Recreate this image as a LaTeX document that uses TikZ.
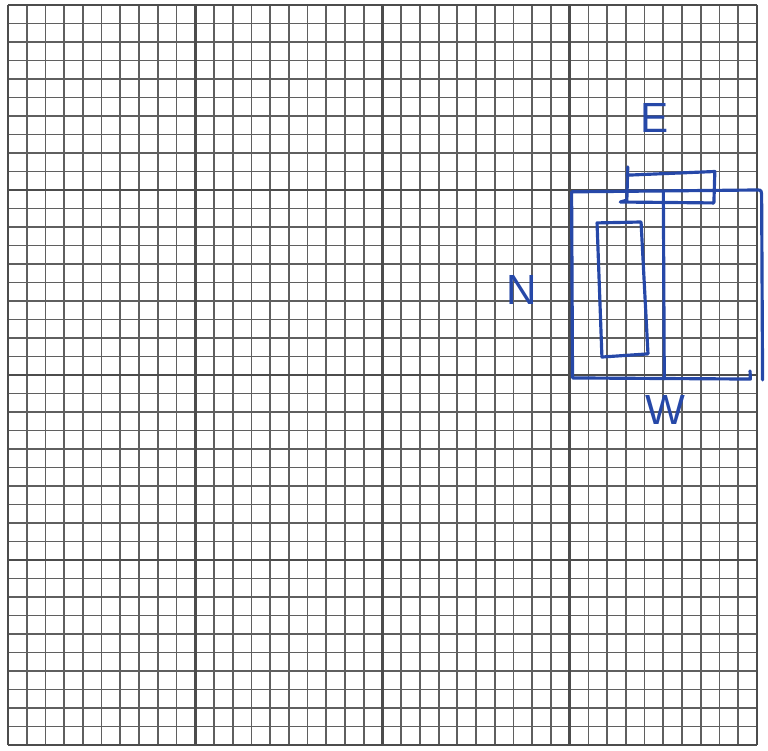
\documentclass[tikz,border=0pt]{standalone}
\usepackage{fontspec}
\setsansfont{Liberation Sans}
\definecolor{ink}{RGB}{38,72,168}
\definecolor{paper}{RGB}{95,95,95}
\begin{document}
\begin{tikzpicture}[x=0.3745cm,y=-0.37cm,
  minor/.style={paper,line width=1.0pt},
  major/.style={paper!80!black,line width=1.6pt},
  pen/.style={ink,line width=1.8pt,line join=round,line cap=round},
  letter/.style={ink,font=\sffamily\fontsize{24}{24}\selectfont}]
\useasboundingbox (-0.427,-0.27) rectangle (40.59,40.32);
\fill[white] (-0.427,-0.27) rectangle (40.59,40.32);

% graph paper
\foreach \i in {0,...,40} {
  \draw[minor] (\i,0)--(\i,40);
  \draw[minor] (0,\i)--(40,\i);
}
\foreach \i in {0,10,...,40} {
  \draw[major] (\i,0)--(\i,40);
  \draw[major] (0,\i)--(40,\i);
}

% outer frame
\draw[pen] (39.63,19.78)--(39.65,20.22)--(30.15,20.16)--(30.1,10.1)--(40.0,10.0)
  .. controls (40.25,10.0) .. (40.25,10.5)--(40.3,20.27);
\draw[pen] (35.0,10.1)--(35.05,20.2);

% top piece
\draw[pen] (33.1,8.75)--(33.05,10.55)--(32.7,10.65)--(37.7,10.7)--(37.75,9.0)--(33.05,9.2);

% inner piece
\draw[pen] (31.46,11.78)--(33.81,11.73)--(34.18,18.86)--(31.72,19.03)--cycle;

\node[letter] (lblE) at (34.55,6.1) {E};
\node[letter] (lblN) at (27.45,15.4) {N};
\node[letter] (lblW) at (35.09,21.9) {W};
\end{tikzpicture}
\end{document}
